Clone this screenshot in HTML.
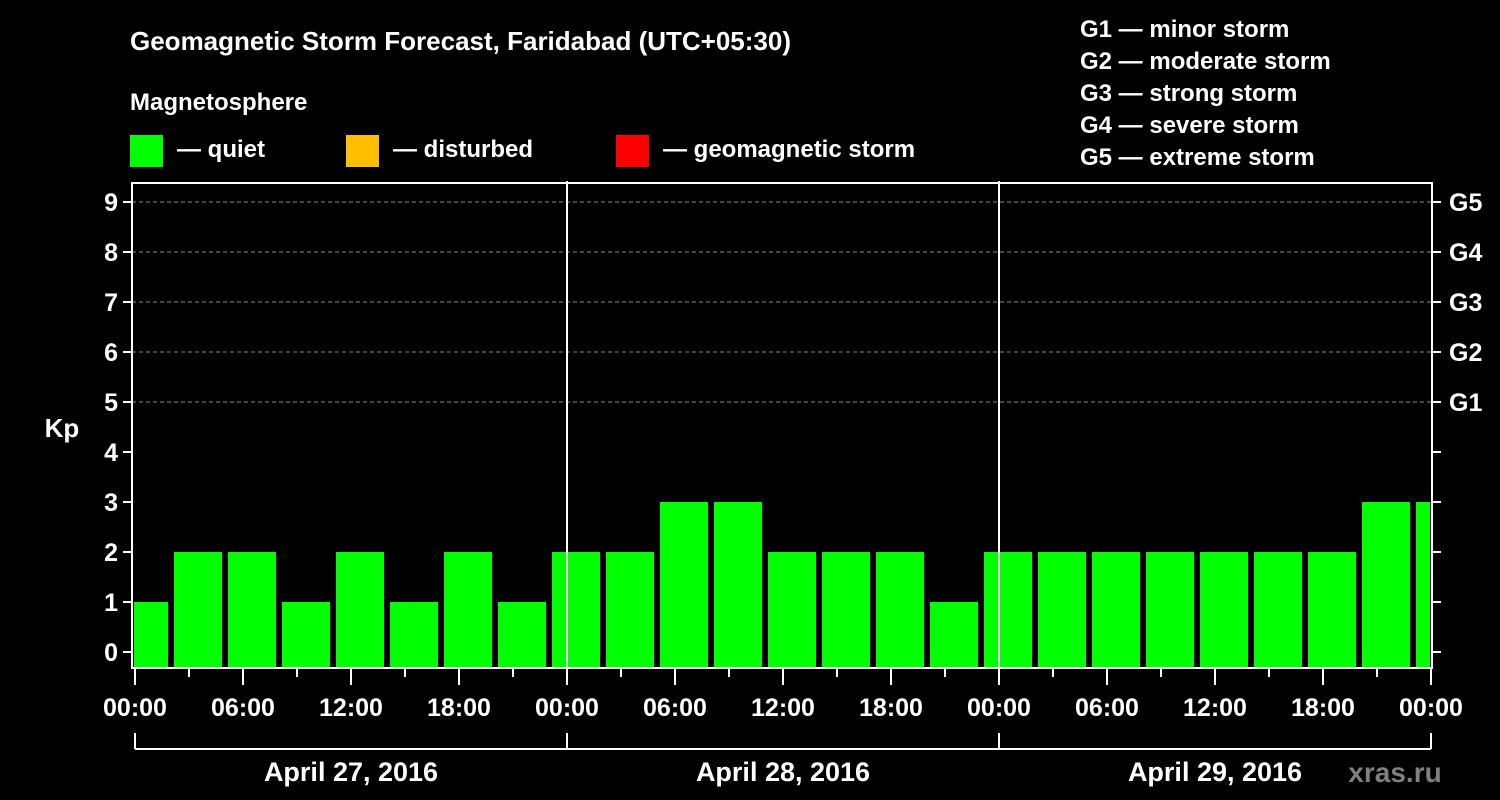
<!DOCTYPE html>
<html><head><meta charset="utf-8"><style>
html,body{margin:0;padding:0;background:#000;}
svg{display:block;font-family:"Liberation Sans",Arial,sans-serif;font-weight:bold;}
</style></head><body>
<svg id="chart" width="1500" height="800" viewBox="0 0 1500 800">
<rect x="0" y="0" width="1500" height="800" fill="#000"/>
<text x="130" y="50" fill="#fff" font-size="26">Geomagnetic Storm Forecast, Faridabad (UTC+05:30)</text>
<text x="130" y="110" fill="#fff" font-size="24">Magnetosphere</text>
<g><rect x="130" y="135" width="33" height="32" fill="#00ff00"/><text x="177" y="157" fill="#fff" font-size="24">— quiet</text></g>
<g><rect x="346" y="135" width="33" height="32" fill="#ffbf00"/><text x="393" y="157" fill="#fff" font-size="24">— disturbed</text></g>
<g><rect x="616" y="135" width="33" height="32" fill="#ff0000"/><text x="663" y="157" fill="#fff" font-size="24">— geomagnetic storm</text></g>
<g fill="#fff" font-size="24">
<text x="1080" y="37">G1 — minor storm</text>
<text x="1080" y="69">G2 — moderate storm</text>
<text x="1080" y="101">G3 — strong storm</text>
<text x="1080" y="133">G4 — severe storm</text>
<text x="1080" y="165">G5 — extreme storm</text>
</g>
<text x="62" y="437" fill="#fff" font-size="26" text-anchor="middle">Kp</text>
<g id="grid"></g>
<g id="bars"></g>
<g id="axes"></g>
<text x="1395" y="782" fill="#808080" font-size="28" text-anchor="middle">xras.ru</text>
</svg>
<script>
const kpValues = [1,2,2,1,2,1,2,1,2,2,3,3,2,2,2,1,2,2,2,2,2,2,2,3,3];
const yTicks = [0,1,2,3,4,5,6,7,8,9];
const gLabels = ["G1","G2","G3","G4","G5"];
const gLevels = [5,6,7,8,9];
const dayLabels = ["April 27, 2016","April 28, 2016","April 29, 2016"];
const timeLabels = ["00:00","06:00","12:00","18:00"];
const barOffsetHours = -1;

const NS="http://www.w3.org/2000/svg";
const L=132,R=1432,T=183,B=668,X0=135,DAY=432;
const y=v=>652-50*v;
const x=h=>X0+h*DAY/24;
function mk(tag,attrs,parent,txt){const e=document.createElementNS(NS,tag);for(const k in attrs)e.setAttribute(k,attrs[k]);if(txt!==undefined)e.textContent=txt;parent.appendChild(e);return e;}
const grid=document.getElementById('grid'),bars=document.getElementById('bars'),axes=document.getElementById('axes');
mk('clipPath',{id:'clip'},document.getElementById('chart'));
mk('rect',{x:L+2,y:T,width:R-L-4,height:B-T},document.getElementById('clip'));
gLevels.forEach(g=>{const l=mk('line',{x1:L,x2:R,y1:y(g),y2:y(g),stroke:'#888','stroke-dasharray':'4,3','stroke-width':1},grid);

});
bars.setAttribute('clip-path','url(#clip)');
kpValues.forEach((v,i)=>{const h0=barOffsetHours+3*i;const r=mk('rect',{x:x(h0)+3,y:y(v),width:48,height:B-y(v),fill:v>=5?'#ff0000':(v>=4?'#ffbf00':'#00ff00')},bars);

});
const st={stroke:'#fff','stroke-width':2,fill:'none'};
mk('rect',Object.assign({x:L,y:T,width:R-L,height:B-T},st),axes);
for(let d=1;d<dayLabels.length;d++)mk('line',Object.assign({x1:x(24*d),x2:x(24*d),y1:T-2,y2:B},st),axes);
yTicks.forEach(t=>{mk('line',Object.assign({x1:L-9,x2:L,y1:y(t),y2:y(t)},st),axes);
mk('line',Object.assign({x1:R,x2:R+9,y1:y(t),y2:y(t)},st),axes);
const tx=mk('text',{x:L-14,y:y(t)+9,fill:'#fff','font-size':25,'text-anchor':'end'},axes,String(t));

});
gLabels.forEach((g,i)=>{const tx=mk('text',{x:R+17,y:y(gLevels[i])+9,fill:'#fff','font-size':25},axes,g);

});
const nd=dayLabels.length;
for(let h=0;h<=24*nd;h+=3){const major=h%6===0;mk('line',Object.assign({x1:x(h),x2:x(h),y1:B,y2:major?B+17:B+9},st),axes);
if(major){const tx=mk('text',{x:x(h),y:716,fill:'#fff','font-size':25,'text-anchor':'middle'},axes,timeLabels[(h/6)%4]);

}}
mk('line',Object.assign({x1:x(0),x2:x(24*nd),y1:749,y2:749},st),axes);
for(let d=0;d<=nd;d++)mk('line',Object.assign({x1:x(24*d),x2:x(24*d),y1:733,y2:749},st),axes);
dayLabels.forEach((s,d)=>{const tx=mk('text',{x:x(24*d+12),y:781,fill:'#fff','font-size':27,'text-anchor':'middle'},axes,s);

});
</script>
</body></html>
